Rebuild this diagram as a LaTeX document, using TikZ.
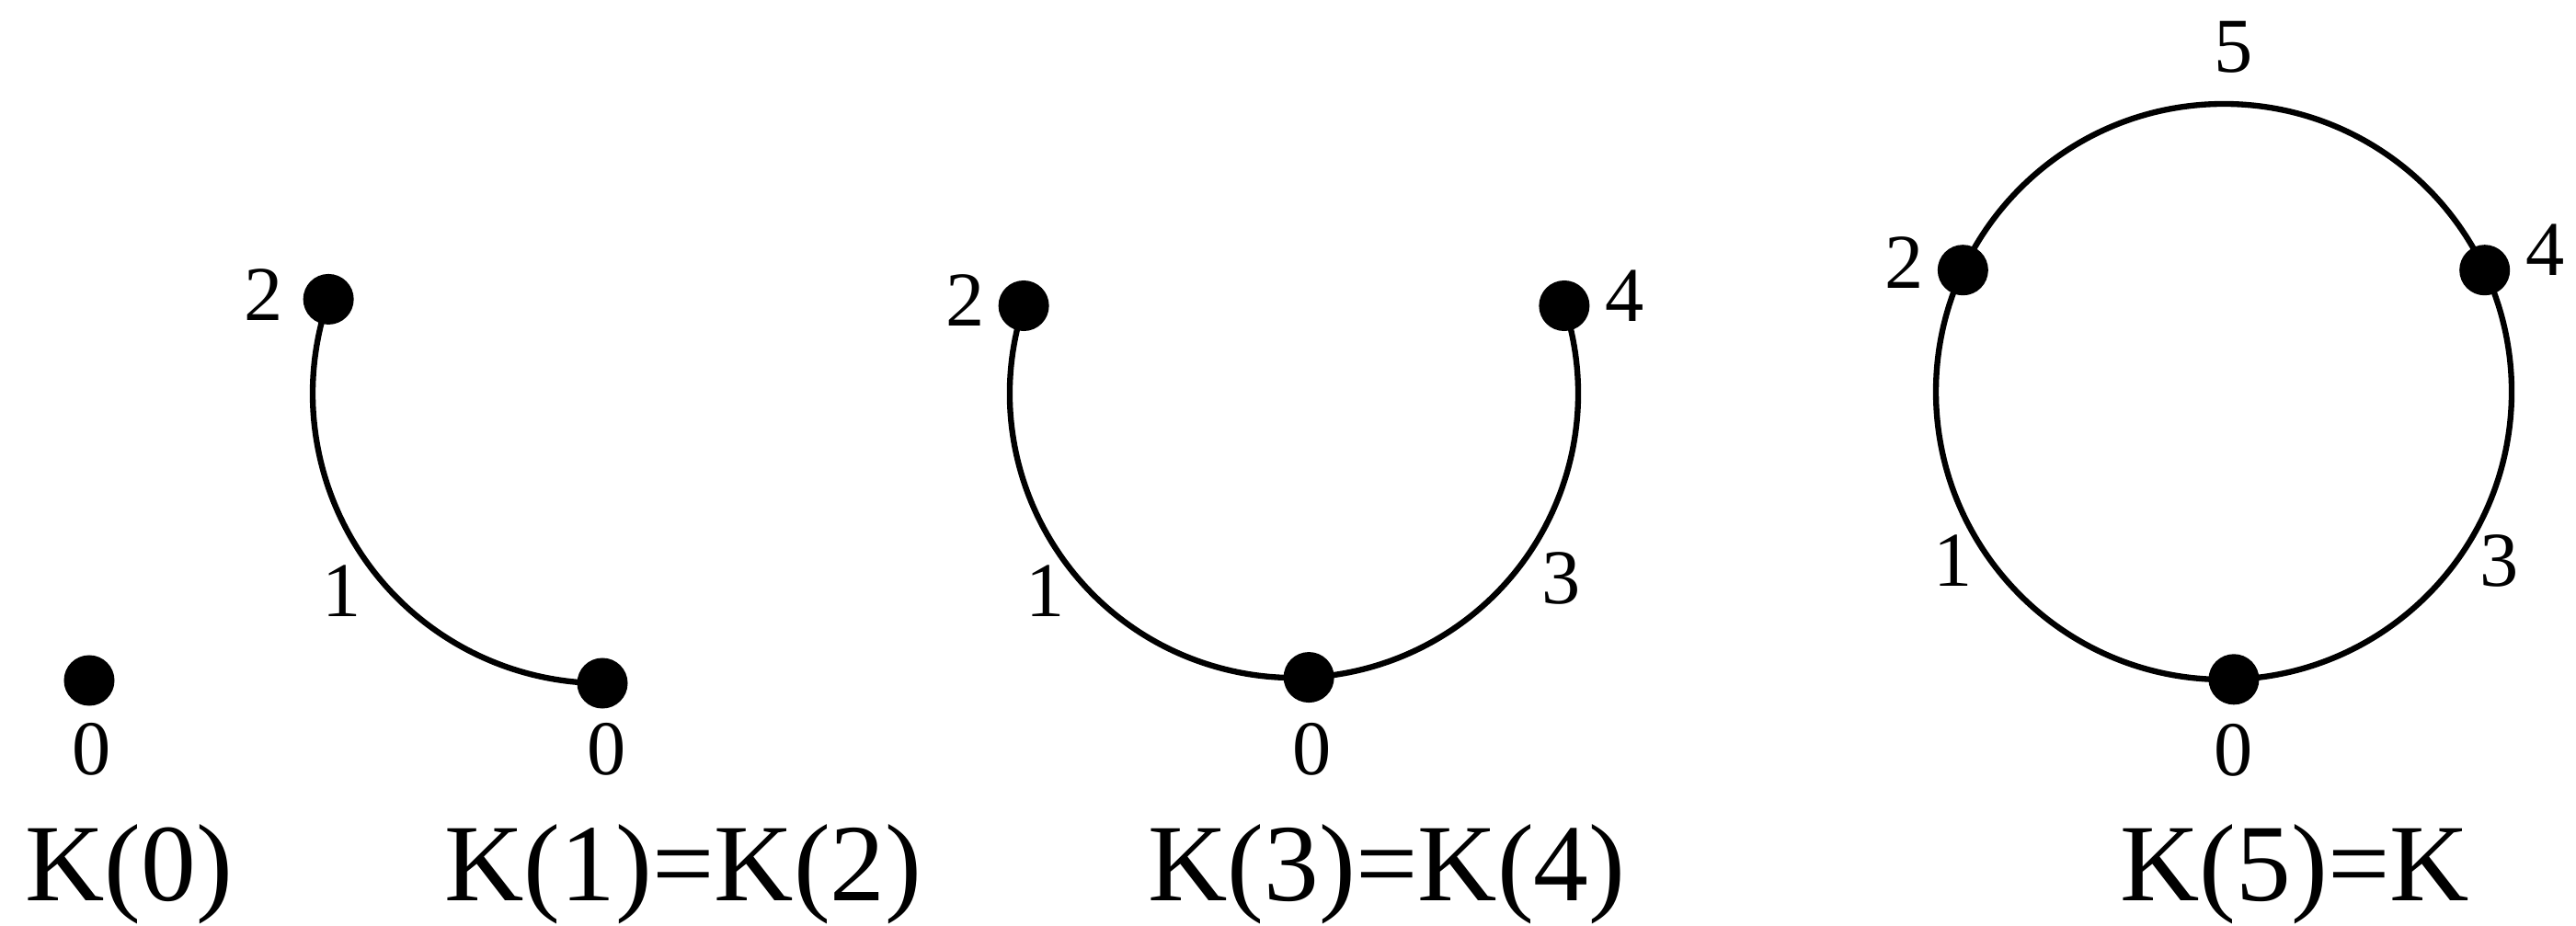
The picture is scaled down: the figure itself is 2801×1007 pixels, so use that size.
\documentclass[tikz,border=0pt]{standalone}
\usepackage{fontspec}
\setmainfont{Liberation Serif}
\usetikzlibrary{calc}
\begin{document}
\begin{tikzpicture}[x=0.01cm,y=0.01cm,
  dot/.style={circle,fill=black,inner sep=0pt,minimum size=0.55cm},
  num/.style={inner sep=0pt,font=\fontsize{24}{28}\selectfont},
  title/.style={inner sep=0pt,anchor=base,font=\fontsize{34}{40}\selectfont},
  edge/.style={line width=1.8pt}]
\useasboundingbox (0,-1007) rectangle (2801,0);

% ---------- K(0)
\coordinate (a0) at (97,-740);
\node[dot] (A0) at (a0) {};
\node[num] (la0) at (100,-815) {0};
\node[title] (ta) at (140,-979) {K(0)};

% ---------- K(1)=K(2)
\coordinate (cb) at (655,-428);
\coordinate (b2) at ($(cb)+(161:315)$);
\coordinate (b0) at ($(cb)+(270:315)$);
\draw[edge] (b2) arc[start angle=161,end angle=270,radius=315];
\node[dot] (B2) at (b2) {};
\node[dot] (B0) at (b0) {};
\node[num] (lb2) at (287,-321) {2};
\node[num] (lb1) at (372,-643) {1};
\node[num] (lb0) at (660,-815) {0};
\node[title] (tb) at (743,-979) {K(1)=K(2)};

% ---------- K(3)=K(4)
\coordinate (cc) at (1407,-428);
\coordinate (c2) at ($(cc)+(162:309)$);
\coordinate (c4) at ($(cc)+(18:309)$);
\coordinate (c0) at ($(cc)+(273:309)$);
\draw[edge] (c2) arc[start angle=162,end angle=378,radius=309];
\node[dot] (C2) at (c2) {};
\node[dot] (C4) at (c4) {};
\node[dot] (C0) at (c0) {};
\node[num] (lc2) at (1050,-327) {2};
\node[num] (lc4) at (1767,-322) {4};
\node[num] (lc1) at (1137,-643) {1};
\node[num] (lc3) at (1698,-629) {3};
\node[num] (lc0) at (1427,-815) {0};
\node[title] (tc) at (1508,-979) {K(3)=K(4)};

% ---------- K(5)=K
\coordinate (cd) at (2418,-426);
\coordinate (d2) at ($(cd)+(155:313)$);
\coordinate (d4) at ($(cd)+(25:313)$);
\coordinate (d0) at ($(cd)+(272:313)$);
\draw[edge] (cd) circle[radius=313];
\node[dot] (D2) at (d2) {};
\node[dot] (D4) at (d4) {};
\node[dot] (D0) at (d0) {};
\node[num] (ld5) at (2429,-51) {5};
\node[num] (ld2) at (2071,-286) {2};
\node[num] (ld4) at (2768,-272) {4};
\node[num] (ld1) at (2124,-610) {1};
\node[num] (ld3) at (2718,-610) {3};
\node[num] (ld0) at (2429,-816) {0};
\node[title] (td) at (2495,-979) {K(5)=K};
\end{tikzpicture}
\end{document}
